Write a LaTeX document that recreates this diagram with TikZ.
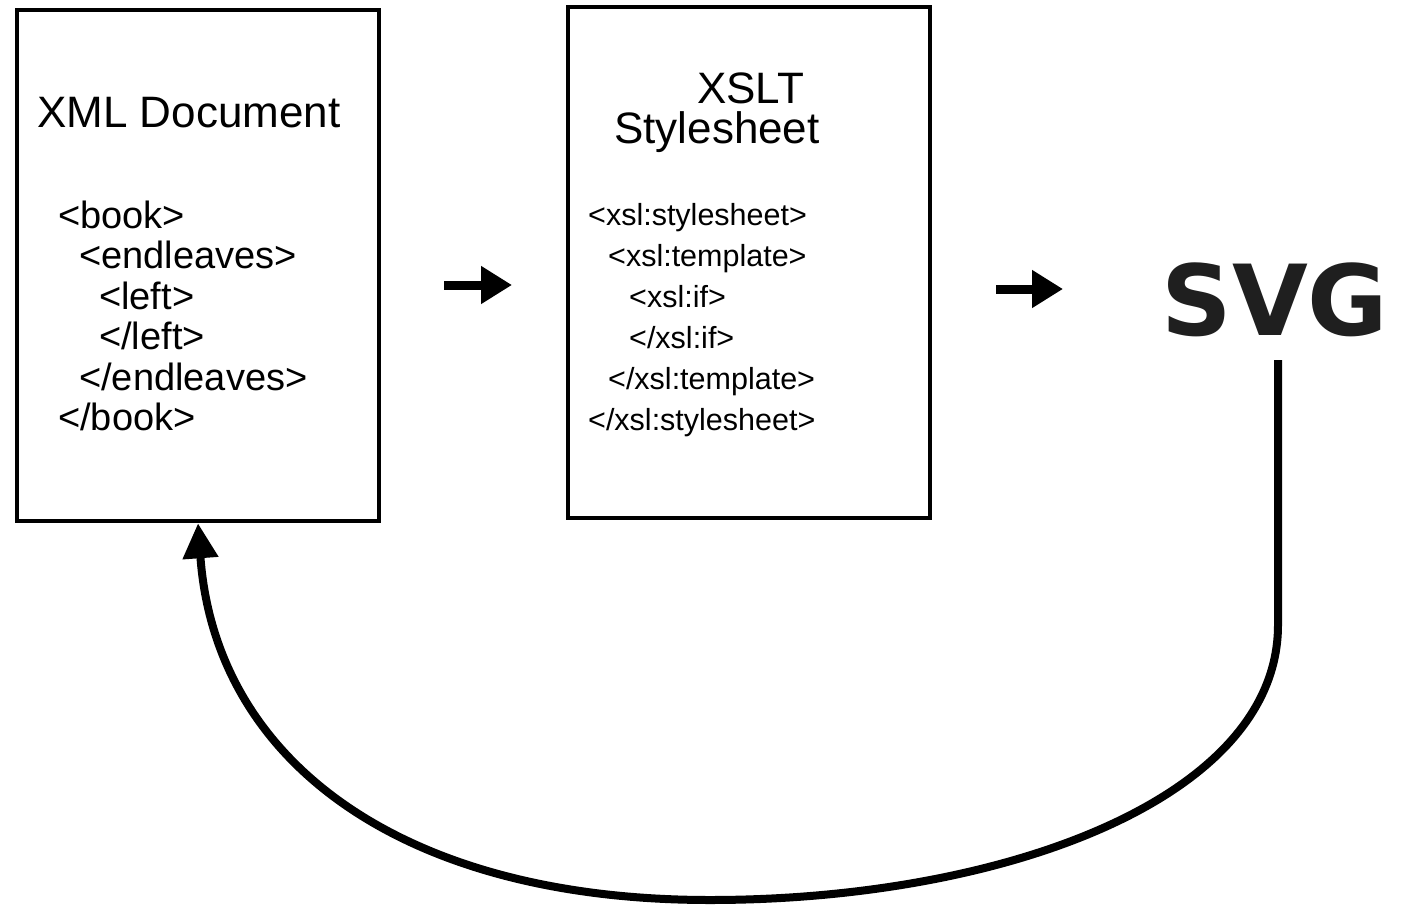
\documentclass[tikz,border=0pt]{standalone}
\usepackage{fontspec}
\setmainfont{Liberation Sans}
\newfontfamily\svgfont{DejaVu Sans}
\usetikzlibrary{arrows.meta}
\begin{document}
\begin{tikzpicture}[x=1pt,y=-1pt,
  docbox/.style={draw,line width=4.5pt,minimum width=362pt,minimum height=511pt,inner sep=0pt},
  ttl/.style={anchor=base west,inner sep=0pt,font=\fontsize{44}{44}\selectfont},
  xmlcode/.style={anchor=base west,inner sep=0pt,font=\fontsize{38}{38}\selectfont},
  xslcode/.style={anchor=base west,inner sep=0pt,font=\fontsize{30.5}{30.5}\selectfont},
  svgtxt/.style={inner sep=0pt,outer sep=0pt,text=black!88,font=\svgfont\bfseries\fontsize{98}{98}\selectfont},
  flowarrow/.style={line width=9pt,-{Triangle[length=31pt,width=36pt]}},
  backarrow/.style={line width=8pt,-{Triangle[length=35pt,width=34pt]}}
]
\useasboundingbox (0,0) rectangle (1405,907);
% boxes
\node[docbox] (xml) at (198,265.5) {};
\node[docbox] (xslt) at (749,262.5) {};
% XML document text
\node[ttl] (xmltitle) at (37,127) {XML Document};
\node[xmlcode] (x1) at (58,228) {<book>};
\node[xmlcode] (x2) at (79,268.5) {<endleaves>};
\node[xmlcode] (x3) at (99,309) {<left>};
\node[xmlcode] (x4) at (99,349.5) {</left>};
\node[xmlcode] (x5) at (79,390) {</endleaves>};
\node[xmlcode] (x6) at (58,430.5) {</book>};
% XSLT text
\node[ttl] (xsltitle1) at (697,103) {XSLT};
\node[ttl] (xsltitle2) at (614,143) {Stylesheet};
\node[xslcode] (s1) at (588,225) {<xsl:stylesheet>};
\node[xslcode] (s2) at (608,266) {<xsl:template>};
\node[xslcode] (s3) at (629,307) {<xsl:if>};
\node[xslcode] (s4) at (629,348) {</xsl:if>};
\node[xslcode] (s5) at (608,389) {</xsl:template>};
\node[xslcode] (s6) at (588,430) {</xsl:stylesheet>};
% SVG
\node[svgtxt] (svg) at (1275,300) {SVG};
% arrow anchor points
\coordinate (a1s) at (444,285);
\coordinate (a1e) at (512,285);
\coordinate (a2s) at (996,289);
\coordinate (a2e) at (1063,289);
\coordinate (svgout) at (1278,360);
\draw[flowarrow] (a1s) -- (a1e);
\draw[flowarrow] (a2s) -- (a2e);
\draw[backarrow] (svgout) -- ++(0,265) .. controls +(0,175) and (1000,900) .. (710,900)
  .. controls (400,900) and (215,760) .. (xml.south);
\end{tikzpicture}
\end{document}
